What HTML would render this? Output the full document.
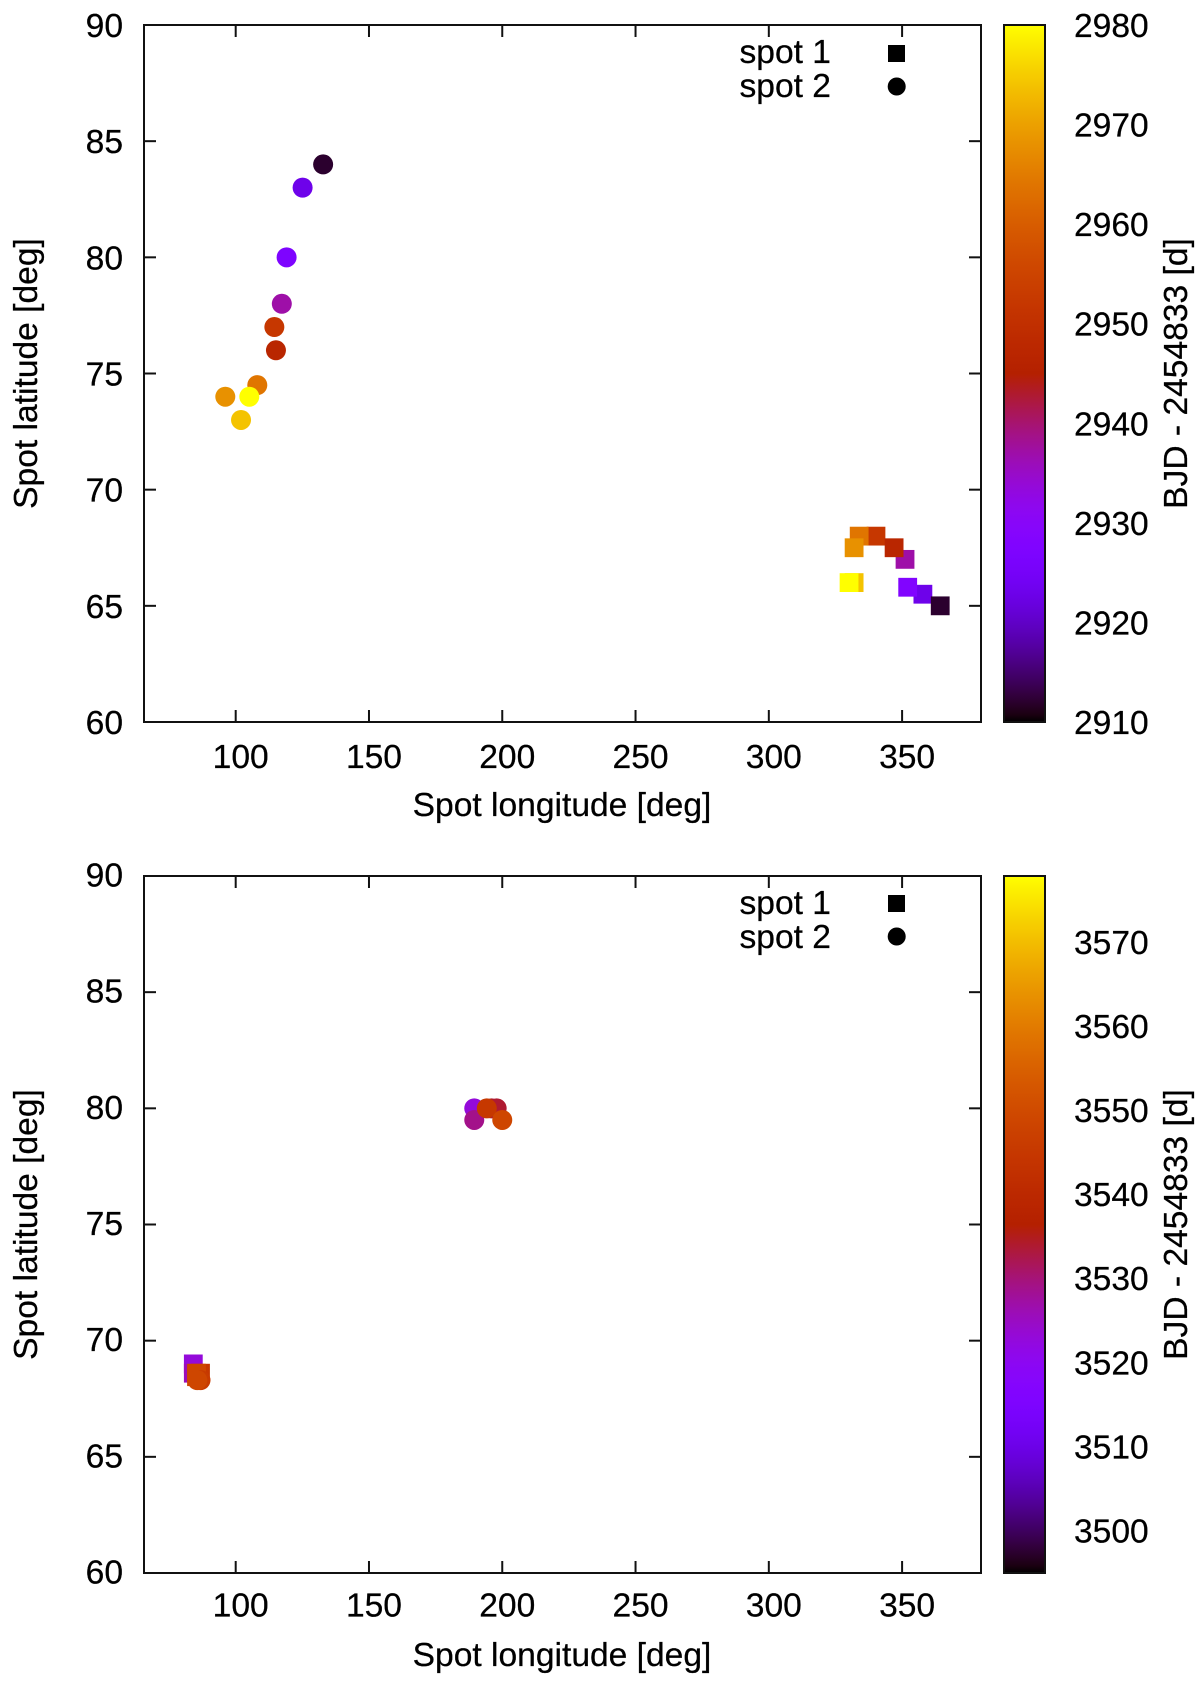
<!DOCTYPE html>
<html lang="en">
<head>
<meta charset="utf-8">
<title>Spot latitude versus longitude</title>
<style>
html,body{margin:0;padding:0;background:#fff;}
svg{display:block;}
text{font-family:"Liberation Sans",Arial,sans-serif;font-size:33.6px;fill:#000;stroke:#000;stroke-width:.25px;}
</style>
</head>
<body>
<svg id="figure" xmlns="http://www.w3.org/2000/svg" width="1200" height="1681" viewBox="0 0 1200 1681">
  <defs>
    <linearGradient id="cbGradient" x1="0" y1="1" x2="0" y2="0"></linearGradient>
  </defs>
  <rect x="0" y="0" width="1200" height="1681" fill="#fff"/>

  <g id="panel-top">
    <g class="marks"></g>
    <g class="axes"></g>
    <rect x="144" y="25" width="837" height="697" fill="none" stroke="#111" stroke-width="2"/>
    <rect x="1004" y="25" width="41" height="697" fill="url(#cbGradient)" stroke="#111" stroke-width="2"/>
    <text x="562" y="816" text-anchor="middle">Spot longitude [deg]</text>
    <text transform="translate(37,373.5) rotate(-90)" text-anchor="middle">Spot latitude [deg]</text>
    <text transform="translate(1187,373.5) rotate(-90)" text-anchor="middle">BJD - 2454833 [d]</text>
    <text x="739.5" y="63">spot 1</text>
    <text x="739.5" y="97">spot 2</text>
    <rect x="888" y="45" width="17" height="17" fill="#000"/>
    <circle cx="896.7" cy="86.5" r="9" fill="#000"/>
  </g>

  <g id="panel-bottom" transform="translate(0,851)">
    <g class="marks"></g>
    <g class="axes"></g>
    <rect x="144" y="25" width="837" height="697" fill="none" stroke="#111" stroke-width="2"/>
    <rect x="1004" y="25" width="41" height="697" fill="url(#cbGradient)" stroke="#111" stroke-width="2"/>
    <text x="562" y="815" text-anchor="middle">Spot longitude [deg]</text>
    <text transform="translate(37,373.5) rotate(-90)" text-anchor="middle">Spot latitude [deg]</text>
    <text transform="translate(1187,373.5) rotate(-90)" text-anchor="middle">BJD - 2454833 [d]</text>
    <text x="739.5" y="63">spot 1</text>
    <text x="739.5" y="97">spot 2</text>
    <rect x="888" y="44" width="17" height="17" fill="#000"/>
    <circle cx="896.7" cy="85.5" r="9" fill="#000"/>
  </g>
</svg>

<script>
// Axis domains and tick labels
const xDomain = [65.6, 379.6];
const yDomain = [60, 90];
const xTicks = [100, 150, 200, 250, 300, 350];
const yTicks = [60, 65, 70, 75, 80, 85, 90];
const topTimeDomain = [2910, 2980];
const bottomTimeDomain = [3495.1, 3578.05];
const topTimeTicks = [2910, 2920, 2930, 2940, 2950, 2960, 2970, 2980];
const bottomTimeTicks = [3500, 3510, 3520, 3530, 3540, 3550, 3560, 3570];

// Top panel, spot 1 (squares)
const topSpot1Lon = [357.8, 364.3, 352.1, 351.1, 340.2, 347.0, 333.9, 332.0, 332.0, 330.1];
const topSpot1Lat = [65.5, 65.0, 65.8, 67.0, 68.0, 67.5, 68.0, 67.5, 66.0, 66.0];
const topSpot1Time = [2923, 2912, 2928, 2937, 2952, 2947, 2964, 2968, 2974, 2980];

// Top panel, spot 2 (circles)
const topSpot2Lon = [132.8, 125.1, 119.1, 117.3, 115.1, 114.5, 108.1, 96.1, 102.0, 105.1];
const topSpot2Lat = [84.0, 83.0, 80.0, 78.0, 76.0, 77.0, 74.5, 74.0, 73.0, 74.0];
const topSpot2Time = [2912, 2923, 2927, 2937, 2947, 2952, 2964, 2968, 2974, 2980];

// Bottom panel, spot 1 (squares)
const bottomSpot1Lon = [84.1, 84.1, 86.8, 85.3, 85.3];
const bottomSpot1Lat = [69.0, 68.6, 68.6, 68.6, 68.45];
const bottomSpot1Time = [3523, 3526, 3545, 3549, 3549];

// Bottom panel, spot 2 (circles)
const bottomSpot2Lon = [189.5, 189.5, 196.0, 197.9, 194.2, 200.0, 86.8, 85.6];
const bottomSpot2Lat = [80.0, 79.5, 80.0, 80.0, 80.0, 79.5, 68.3, 68.3];
const bottomSpot2Time = [3523, 3529, 3534, 3534, 3545, 3549, 3546, 3549];

const SVG_NS = 'http://www.w3.org/2000/svg';
const PLOT = {left: 144, right: 981, top: 25, bottom: 722};
const BAR = {left: 1004, right: 1045};
const SQUARE_SIZE = 18.8;
const CIRCLE_RADIUS = 10;
const TICK_LEN = 12;
const BAR_TICK_LEN = 11;

function xScale(lon) {
  return PLOT.left + (lon - xDomain[0]) / (xDomain[1] - xDomain[0]) * (PLOT.right - PLOT.left);
}
function yScale(lat) {
  return PLOT.bottom - (lat - yDomain[0]) / (yDomain[1] - yDomain[0]) * (PLOT.bottom - PLOT.top);
}
function timeScale(t, domain) {
  return PLOT.bottom - (t - domain[0]) / (domain[1] - domain[0]) * (PLOT.bottom - PLOT.top);
}
// gnuplot default pm3d palette (rgbformulae 7,5,15)
function palette(f) {
  const v = Math.max(0, Math.min(1, f));
  const r = Math.sqrt(v);
  const g = v * v * v;
  const b = Math.max(0, Math.sin(2 * Math.PI * v));
  return 'rgb(' + Math.round(r * 255) + ',' + Math.round(g * 255) + ',' + Math.round(b * 255) + ')';
}
function timeColor(t, domain) {
  return palette((t - domain[0]) / (domain[1] - domain[0]));
}
function make(tag, attrs) {
  const el = document.createElementNS(SVG_NS, tag);
  for (const k in attrs) el.setAttribute(k, attrs[k]);
  return el;
}
function tickLine(parent, x1, y1, x2, y2, name) {
  const line = make('line', {x1: x1, y1: y1, x2: x2, y2: y2, stroke: '#111', 'stroke-width': 2});
  
  
  parent.appendChild(line);
}
function tickText(parent, x, y, anchor, value, name) {
  const label = make('text', {x: x, y: y, 'text-anchor': anchor});
  label.textContent = value;
  
  
  parent.appendChild(label);
}
function drawSquares(parent, lons, lats, times, domain) {
  lons.forEach(function (lon, i) {
    const square = make('rect', {
      x: xScale(lon) - SQUARE_SIZE / 2,
      y: yScale(lats[i]) - SQUARE_SIZE / 2,
      width: SQUARE_SIZE,
      height: SQUARE_SIZE,
      fill: timeColor(times[i], domain)
    });
    
    
    parent.appendChild(square);
  });
}
function drawCircles(parent, lons, lats, times, domain) {
  lons.forEach(function (lon, i) {
    const dot = make('circle', {
      cx: xScale(lon),
      cy: yScale(lats[i]),
      r: CIRCLE_RADIUS,
      fill: timeColor(times[i], domain)
    });
    
    
    parent.appendChild(dot);
  });
}
function drawAxes(parent, timeTicks, domain, xLabelY, labelShift) {
  xTicks.forEach(function (v) {
    const x = xScale(v);
    tickLine(parent, x, PLOT.bottom, x, PLOT.bottom - TICK_LEN, 'x-tick-bottom');
    tickLine(parent, x, PLOT.top, x, PLOT.top + TICK_LEN, 'x-tick-top');
    tickText(parent, x + 5, xLabelY, 'middle', v, 'x-tick-label');
  });
  yTicks.forEach(function (v) {
    const y = yScale(v);
    if (v !== yDomain[0] && v !== yDomain[1]) {
      tickLine(parent, PLOT.left, y, PLOT.left + TICK_LEN, y, 'y-tick-left');
      tickLine(parent, PLOT.right, y, PLOT.right - TICK_LEN, y, 'y-tick-right');
    }
    tickText(parent, 123, y + labelShift, 'end', v, 'y-tick-label');
  });
  timeTicks.forEach(function (v) {
    const y = timeScale(v, domain);
    if (v !== domain[0] && v !== domain[1]) {
      tickLine(parent, BAR.left, y, BAR.left + BAR_TICK_LEN, y, 'colorbar-tick-left');
      tickLine(parent, BAR.right, y, BAR.right - BAR_TICK_LEN, y, 'colorbar-tick-right');
    }
    tickText(parent, 1074, y + labelShift, 'start', v, 'colorbar-tick-label');
  });
}

const gradient = document.getElementById('cbGradient');
for (let i = 0; i <= 100; i++) {
  gradient.appendChild(make('stop', {offset: (i / 100), 'stop-color': palette(i / 100)}));
}

const topPanel = document.getElementById('panel-top');
drawSquares(topPanel.querySelector('.marks'), topSpot1Lon, topSpot1Lat, topSpot1Time, topTimeDomain);
drawCircles(topPanel.querySelector('.marks'), topSpot2Lon, topSpot2Lat, topSpot2Time, topTimeDomain);
drawAxes(topPanel.querySelector('.axes'), topTimeTicks, topTimeDomain, 768, 12);

const bottomPanel = document.getElementById('panel-bottom');
drawSquares(bottomPanel.querySelector('.marks'), bottomSpot1Lon, bottomSpot1Lat, bottomSpot1Time, bottomTimeDomain);
drawCircles(bottomPanel.querySelector('.marks'), bottomSpot2Lon, bottomSpot2Lat, bottomSpot2Time, bottomTimeDomain);
drawAxes(bottomPanel.querySelector('.axes'), bottomTimeTicks, bottomTimeDomain, 765.5, 10.5);
</script>
</body>
</html>
